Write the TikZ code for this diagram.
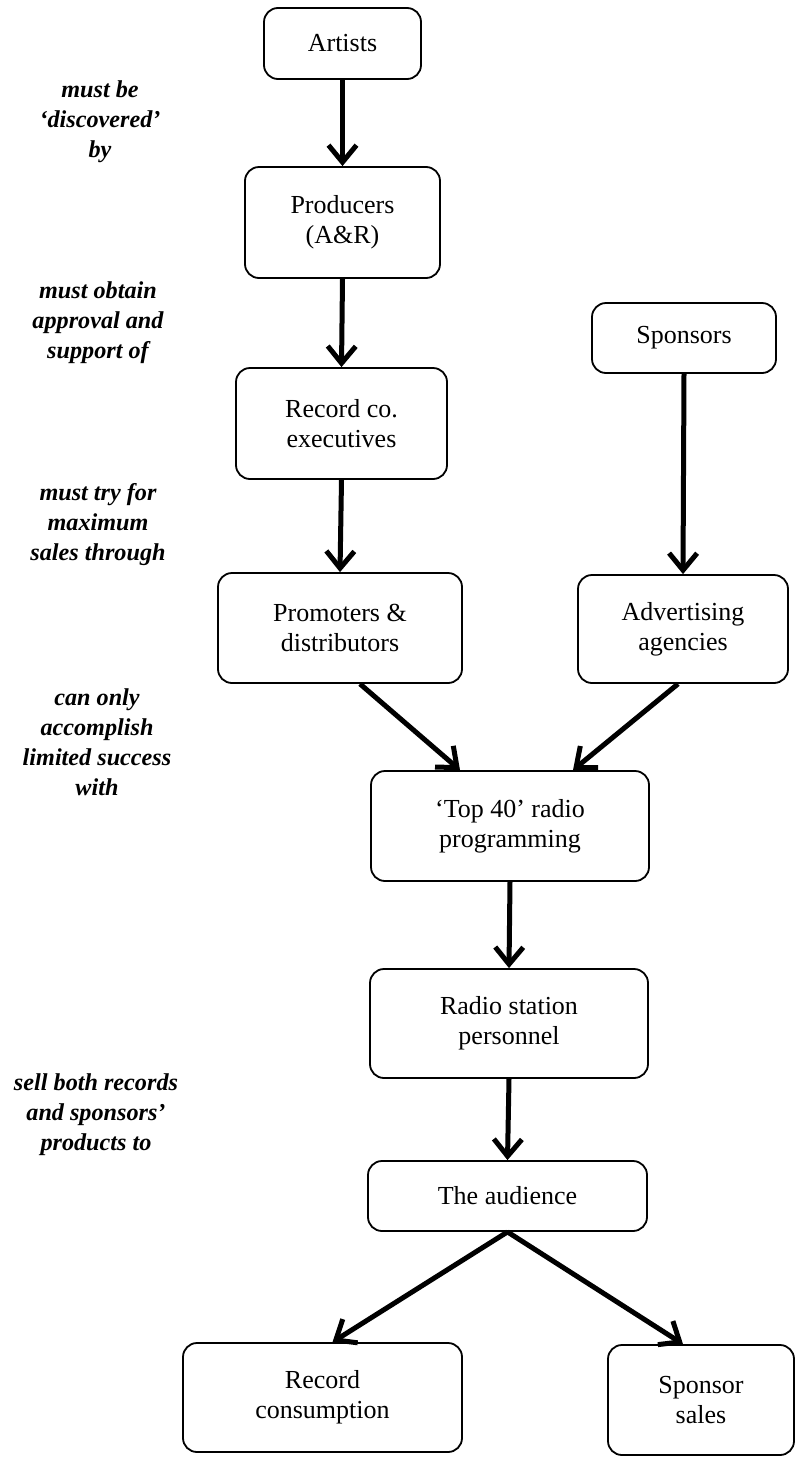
\documentclass[tikz,border=0pt]{standalone}
\usepackage{fontspec}
\setmainfont{Liberation Serif}
\usetikzlibrary{arrows.meta}
\begin{document}
\begin{tikzpicture}[x=1pt,y=-1pt,
  box/.style={draw, line width=1.8pt, rounded corners=14pt, align=center, inner sep=0pt,
    font=\fontsize{26}{30}\selectfont},
  lab/.style={align=center, inner sep=0pt, font=\fontsize{24.2}{30}\selectfont\bfseries\itshape},
  arr/.style={line width=5pt, -{Straight Barb[length=17pt,width=28pt,line width=5pt]}}]
\useasboundingbox (0,0) rectangle (795,1459);
% boxes
\node[box, minimum width=157pt, minimum height=71pt]  (art)  at (342.5,43.5) {Artists};
\node[box, minimum width=195pt, minimum height=111pt] (prod) at (342.5,222.5) {Producers\\(A\&R)};
\node[box, minimum width=211pt, minimum height=111pt] (rec)  at (341.5,423.5) {Record co.\\executives};
\node[box, minimum width=244pt, minimum height=110pt] (prom) at (340,628) {Promoters \&\\distributors};
\node[box, minimum width=184pt, minimum height=70pt]  (spon) at (684,338) {Sponsors};
\node[box, minimum width=210pt, minimum height=108pt] (adv)  at (683,629) {Advertising\\agencies};
\node[box, minimum width=278pt, minimum height=110pt] (top)  at (510,826) {‘Top 40’ radio\\programming};
\node[box, minimum width=278pt, minimum height=109pt] (radio) at (509,1023.5) {Radio station\\personnel};
\node[box, minimum width=279pt, minimum height=70pt]  (aud)  at (507.5,1196) {The audience};
\node[box, minimum width=279pt, minimum height=109pt] (rc)   at (322.5,1397.5) {Record\\consumption};
\node[box, minimum width=186pt, minimum height=110pt] (ss)   at (701,1400) {Sponsor\\sales};
% labels
\node[lab] (l1) at (100,122) {must be\\‘discovered’\\by};
\node[lab] (l2) at (98,323) {must obtain\\approval and\\support of};
\node[lab] (l3) at (98,525) {must try for\\maximum\\sales through};
\node[lab] (l4) at (97,742) {can only\\accomplish\\limited success\\with};
\node[lab] (l5) at (96,1115) {sell both records\\and sponsors’\\products to};
% arrows
\draw[arr] (art.south) -- (prod.north);
\draw[arr] (prod.south) -- (rec.north);
\draw[arr] (rec.south) -- (prom.north);
\draw[arr] (spon.south) -- (adv.north);
\draw[arr] ([xshift=20pt]prom.south) -- ([xshift=-50pt]top.north);
\draw[arr] ([xshift=-5pt]adv.south) -- ([xshift=63pt]top.north);
\draw[arr] (top.south) -- (radio.north);
\draw[arr] (radio.south) -- (aud.north);
\draw[arr] (aud.south) -- ([xshift=10pt]rc.north);
\draw[arr] (aud.south) -- ([xshift=-18pt]ss.north);
\end{tikzpicture}
\end{document}
